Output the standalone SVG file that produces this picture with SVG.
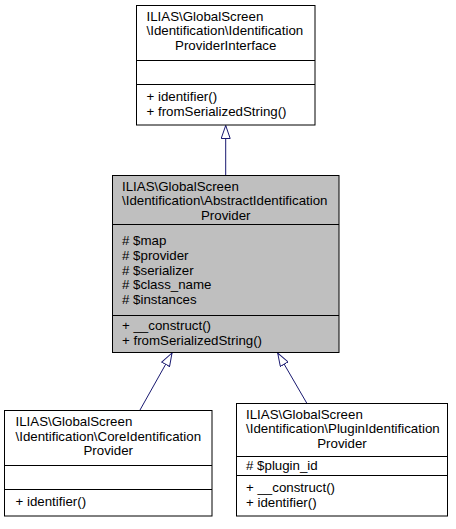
<svg xmlns="http://www.w3.org/2000/svg" width="456" height="529" viewBox="0 0 456 529">
<style>
  .box { fill: #ffffff; stroke: #000000; stroke-width: 1; }
  .cur { fill: #bfbfbf; }
  .sep { stroke: #000000; stroke-width: 1; }
  text { font-family: "Liberation Sans", Arial, Helvetica, sans-serif; font-size: 13.3px; fill: #000000; }
  .c { text-anchor: middle; }
  .edge { fill: none; stroke: #191970; stroke-width: 1; marker-end: url(#inh); }
</style>
<defs>
  <marker id="inh" viewBox="0 0 14 10" refX="13.5" refY="5" markerWidth="14" markerHeight="10" markerUnits="userSpaceOnUse" orient="auto">
    <path d="M0.5,0.5 L13.5,5 L0.5,9.5 Z" fill="#ffffff" stroke="#191970" stroke-width="1"/>
  </marker>
</defs>
<rect width="456" height="529" fill="#ffffff"/>
<g id="connectors">
  <path class="edge" d="M225.7,175 L225.7,125.5"/>
  <path class="edge" d="M140,410 L172,353"/>
  <path class="edge" d="M306.7,403 L277.7,353"/>
</g>
<g id="node-interface">
  <rect class="box" x="136.5" y="5.5" width="178.5" height="119.5"/>
  <line class="sep" x1="136.5" y1="60.5" x2="315" y2="60.5"/>
  <line class="sep" x1="136.5" y1="84.5" x2="315" y2="84.5"/>
  <text x="146.5" y="20.5">ILIAS\GlobalScreen</text>
  <text x="146.5" y="35.2">\Identification\Identification</text>
  <text class="c" x="225.7" y="49.8">ProviderInterface</text>
  <text x="146.5" y="101">+ identifier()</text>
  <text x="146.5" y="115.7">+ fromSerializedString()</text>
</g>
<g id="node-abstract">
  <rect class="box cur" x="112.5" y="175.5" width="226.5" height="177"/>
  <line class="sep" x1="112.5" y1="224.5" x2="339" y2="224.5"/>
  <line class="sep" x1="112.5" y1="315.5" x2="339" y2="315.5"/>
  <text x="122" y="190.7">ILIAS\GlobalScreen</text>
  <text x="122" y="205.3">\Identification\AbstractIdentification</text>
  <text class="c" x="225.7" y="220">Provider</text>
  <text x="122" y="245.3"># $map</text>
  <text x="122" y="260"># $provider</text>
  <text x="122" y="274.7"># $serializer</text>
  <text x="122" y="289.3"># $class_name</text>
  <text x="122" y="304"># $instances</text>
  <text x="122" y="330">+ __construct()</text>
  <text x="122" y="344.7">+ fromSerializedString()</text>
</g>
<g id="node-core">
  <rect class="box" x="4.5" y="410.5" width="207.5" height="105.5"/>
  <line class="sep" x1="4.5" y1="465.5" x2="212" y2="465.5"/>
  <line class="sep" x1="4.5" y1="489.5" x2="212" y2="489.5"/>
  <text x="15.5" y="426">ILIAS\GlobalScreen</text>
  <text x="15.5" y="440.7">\Identification\CoreIdentification</text>
  <text class="c" x="108.2" y="455.3">Provider</text>
  <text x="15.5" y="506.3">+ identifier()</text>
</g>
<g id="node-plugin">
  <rect class="box" x="236.5" y="403.5" width="211" height="112.5"/>
  <line class="sep" x1="236.5" y1="456.5" x2="447.5" y2="456.5"/>
  <line class="sep" x1="236.5" y1="475.5" x2="447.5" y2="475.5"/>
  <text x="246" y="418.5">ILIAS\GlobalScreen</text>
  <text x="246" y="433.2">\Identification\PluginIdentification</text>
  <text class="c" x="342" y="447.8">Provider</text>
  <text x="246" y="470"># $plugin_id</text>
  <text x="246" y="492">+ __construct()</text>
  <text x="246" y="506.5">+ identifier()</text>
</g>
</svg>
